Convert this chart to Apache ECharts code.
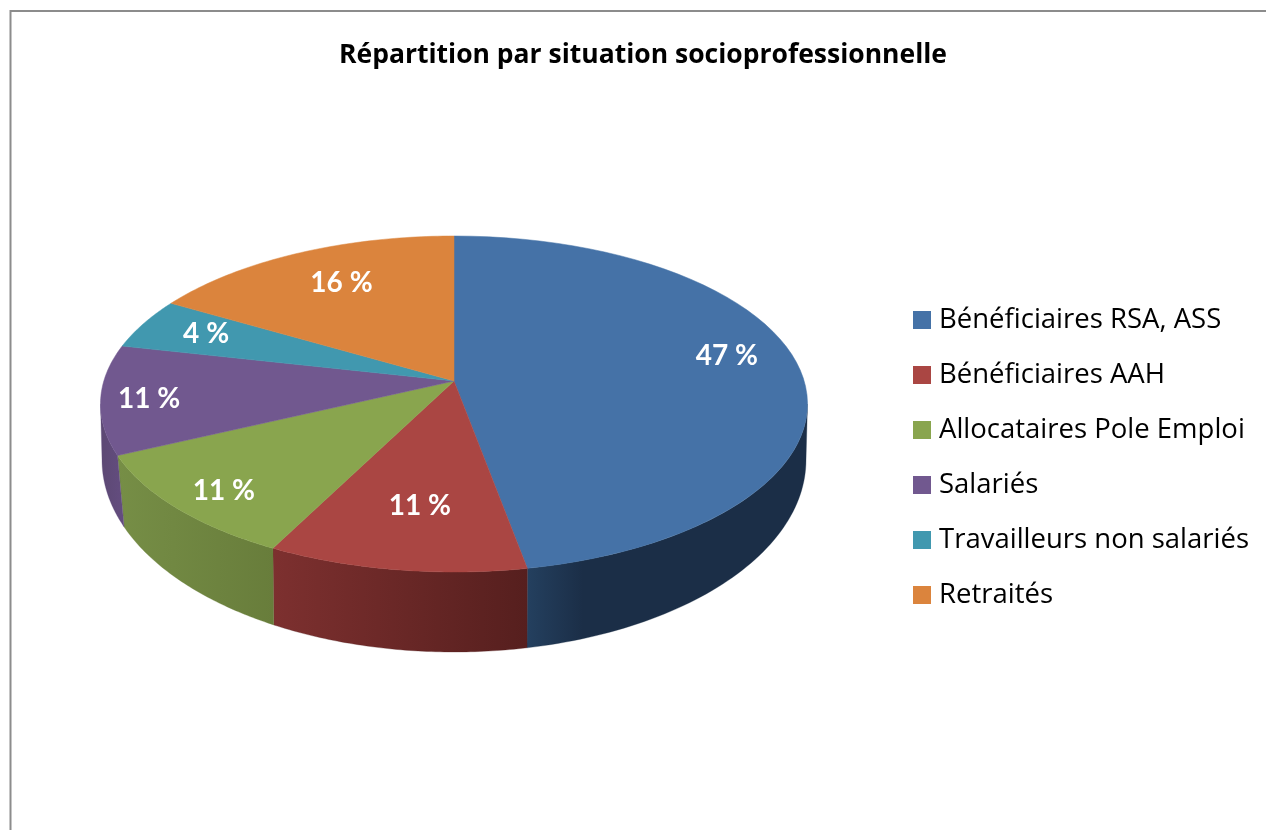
<!DOCTYPE html>
<html>
<head>
<meta charset="utf-8">
<title>Répartition par situation socioprofessionnelle</title>
<script src="https://cdn.jsdelivr.net/npm/echarts@6/dist/echarts.min.js"></script>
<style>
html,body{margin:0;padding:0;background:#fff;}
#chart{width:1266px;height:830px;}
</style>
</head>
<body>
<div id="chart"></div>
<script>
var categories = ["Bénéficiaires RSA, ASS","Bénéficiaires AAH","Allocataires Pole Emploi","Salariés","Travailleurs non salariés","Retraités"];
// parts (les etiquettes sont arrondies)
var shares = [47.1,10.4,10.5,10.5,4.9,16.6];
var shareLabels = ["47 %","11 %","11 %","11 %","4 %","16 %"];
var colors = ["#4572A7","#AA4643","#89A54E","#71588F","#4198AF","#DB843D"];
var wallColors = [["#24405f","#1b2e47"],["#7d302f","#561f1e"],["#768e46","#687d3b"],["#5c4873","#644d80"],["#3a8a9e","#3a8a9e"],["#c07432","#c07432"]];

// geometrie du camembert en perspective
var CX = 454, CY = 404, RX = 353.5, RY = 168;
var APEX_Y = 381;
var BOTTOM_CY = 460, BOTTOM_RX = 352, BOTTOM_RY = 192;
var LABEL_CY = 384, LABEL_RX = 280, LABEL_RY = 124;
var labelNudge = [[0,0],[12,0],[-10,30],[-25,18],[-2,9],[11,10]];

var total = 0;
for(var i=0;i<shares.length;i++){
	total += shares[i];
}

// angle sur le disque -> angle sur l'ellipse (le centre du disque est vu au dessus du centre de l'ellipse)
function toEllipseAngle(theta){
	var d = (CY - APEX_Y) / RY;
	var k = Math.sqrt((1 - d) / (1 + d));
	var half = theta / 2;
	var phi = Math.atan(k * Math.tan(half));
	if(phi < 0 || half > Math.PI / 2){
		phi += Math.PI;
	}
	if(half === Math.PI / 2){
		phi = Math.PI / 2;
	}
	return phi * 2;
}

function topPoint(phi){
	return [CX + RX * Math.sin(phi), CY - RY * Math.cos(phi)];
}
// les aretes de gauche penchent un peu vers le centre
function bottomPoint(phi){
	var a = phi;
	if(phi > 3.68){
		a = phi - 0.055 * Math.sin((phi - 3.68) / 1.03 * Math.PI);
	}
	return [CX + BOTTOM_RX * Math.sin(a), BOTTOM_CY - BOTTOM_RY * Math.cos(a)];
}

function renderSlice(idx){
	return function(params, api){
		var start = 0;
		for(var k=0;k<idx;k++){
			start += shares[k];
		}
		var value = api.value(0);
		var phi1 = toEllipseAngle(start / total * Math.PI * 2);
		var phi2 = toEllipseAngle((start + value) / total * Math.PI * 2);
		var phiMid = toEllipseAngle((start + value / 2) / total * Math.PI * 2);
		var steps = 60;
		var children = [];

		// paroi avant, seulement la partie visible
		var w1 = Math.max(phi1, Math.PI / 2);
		var w2 = Math.min(phi2, Math.PI * 1.5);
		if(w2 > w1){
			var wall = [];
			var back = [];
			for(var s=0;s<=steps;s++){
				var a = w1 + (w2 - w1) * s / steps;
				wall.push(topPoint(a));
				back.unshift(bottomPoint(a));
			}
			children.push({
				type:'polygon',
				shape:{points:wall.concat(back)},
				style:{
					fill:new echarts.graphic.LinearGradient(0,0,1,0,[
						{offset:0,color:wallColors[idx][0]},
						{offset:idx === 0 ? 0.2 : 1,color:wallColors[idx][1]},
						{offset:1,color:wallColors[idx][1]}
					]),
					stroke:wallColors[idx][1],
					lineWidth:0.3
				}
			});
		}

		// face du dessus
		var face = [[CX, APEX_Y]];
		for(var t=0;t<=steps;t++){
			face.push(topPoint(phi1 + (phi2 - phi1) * t / steps));
		}
		children.push({
			type:'polygon',
			shape:{points:face},
			style:{fill:colors[idx],stroke:colors[idx],lineWidth:0.5}
		});

		// etiquette
		children.push({
			type:'text',
			style:{
				x:CX + LABEL_RX * Math.sin(phiMid) + labelNudge[idx][0],
				y:LABEL_CY - LABEL_RY * Math.cos(phiMid) + labelNudge[idx][1],
				text:shareLabels[idx],
				fill:'#fff',
				font:'bold 28px Lato',
				align:'center',
				verticalAlign:'middle'
			}
		});
		return {type:'group',children:children};
	};
}

var chart = echarts.init(document.getElementById('chart'));
var seriesList = [];
for(var n=0;n<categories.length;n++){
	seriesList.push({
		name:categories[n],
		type:'custom',
		coordinateSystem:'none',
		silent:true,
		animation:false,
		itemStyle:{color:colors[n]},
		renderItem:renderSlice(n),
		data:[[shares[n]]]
	});
}
chart.setOption({
	backgroundColor:'#fff',
	animation:false,
	title:{
		text:'Répartition par situation socioprofessionnelle',
		left:638,
		top:37,
		textAlign:'center',
		textStyle:{fontFamily:'Open Sans',fontWeight:'bold',fontSize:26.5,color:'#000'}
	},
	legend:{
		orient:'vertical',
		left:908,
		top:301,
		icon:'rect',
		itemWidth:18,
		itemHeight:18,
		itemGap:27,
		selectedMode:false,
		data:categories,
		textStyle:{fontFamily:'Open Sans',fontSize:27.5,color:'#000',lineHeight:28,padding:[0,0,0,3]}
	},
	graphic:[{
		type:'polyline',
		shape:{points:[[1266,11],[10.5,11],[10.5,830]]},
		style:{fill:null,stroke:'#8c8c8c',lineWidth:2}
	}],
	series:seriesList
});
</script>
</body>
</html>
